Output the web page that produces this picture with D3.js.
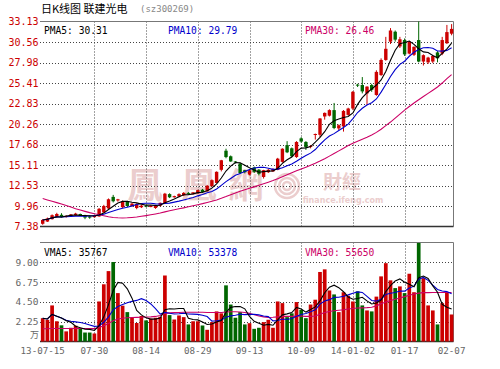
<!DOCTYPE html>
<html><head><meta charset="utf-8">
<script src="https://cdn.jsdelivr.net/npm/d3@7/dist/d3.min.js"></script>
<style>body{margin:0;background:#fff}svg{display:block}</style>
</head><body>
<svg id="c" width="500" height="369"></svg>
<script>
// ---------- data ----------
const titleMain = "日K线图 联建光电";
const titleCode = "(sz300269)";
const tickIdx = [0,11,22,33,44,55,66,77,87];
const tickLabels = ["13-07-15","07-30","08-14","08-29","09-13","10-09","14-01-02","01-17","02-07"];
const priceTicks = [33.13,30.56,27.98,25.41,22.83,20.26,17.68,15.11,12.53,9.96,7.38];
const volTicks = [9.00,6.75,4.50,2.25];
const volUnit = "万";
const priceLegend = ["PMA5: 30.31","PMA10: 29.79","PMA30: 26.46"];
const volLegend = ["VMA5: 35767","VMA10: 53378","VMA30: 55650"];

const open  = [7.72,8.0,8.3,8.6,8.85,8.6,8.7,8.8,8.95,8.8,8.65,8.55,8.65,9.15,9.65,11.1,10.65,9.8,10.5,9.95,
  9.7,9.8,10.0,9.9,9.7,10.0,10.3,11.45,11.05,11.15,11.3,11.6,11.5,11.55,12.0,11.8,12.45,12.85,14.5,16.9,
  16.2,15.55,15.3,14.45,13.9,14.8,14.5,13.6,14.2,14.3,14.5,15.5,17.6,17.2,16.1,18.45,18.0,17.4,18.95,18.9,
  21.2,21.3,22.0,19.7,19.95,21.4,22.2,25.2,25.15,24.1,25.15,23.9,26.4,28.3,30.6,31.85,30.0,30.8,29.1,28.95,
  30.8,28.1,28.0,28.1,29.25,29.1,30.4,31.6];
const high  = [8.3,8.5,8.9,9.1,9.05,8.8,8.95,9.1,9.0,8.85,8.75,8.8,9.7,10.1,10.9,11.35,10.85,10.65,10.6,10.35,
  10.3,10.1,10.1,10.05,10.1,10.4,11.6,11.55,11.25,11.55,11.7,11.7,11.7,12.0,12.1,12.6,13.3,14.3,15.75,17.15,
  16.3,15.6,15.4,14.5,14.55,14.9,14.6,14.5,14.6,14.7,16.0,17.2,18.1,17.3,18.1,18.6,18.1,17.6,19.05,21.0,
  21.7,22.1,22.9,20.2,22.0,22.3,24.4,25.3,26.15,25.0,25.3,27.0,28.5,31.2,32.3,32.0,31.2,31.0,30.7,30.0,
  33.13,29.0,28.7,28.9,29.4,31.2,32.7,32.8];
const low   = [7.6,7.95,8.25,8.5,8.5,8.5,8.65,8.75,8.7,8.3,8.35,8.5,8.6,9.1,9.6,10.4,10.5,9.7,9.85,9.85,
  9.55,9.7,9.8,9.8,9.6,9.9,10.2,10.95,11.0,11.05,11.2,11.35,11.4,11.5,11.6,11.75,12.4,12.8,14.3,15.95,
  15.5,15.3,14.0,14.05,13.8,14.1,13.8,13.4,14.1,14.25,14.45,15.4,16.6,16.1,16.0,17.9,17.0,17.2,18.3,18.6,
  20.8,21.2,19.6,19.5,19.3,21.3,22.0,24.9,24.1,22.65,24.3,23.8,26.3,28.2,30.3,30.6,29.8,28.8,29.0,28.8,
  28.0,27.6,27.8,27.9,28.0,28.9,30.3,31.4];
const close = [8.2,8.4,8.8,8.95,8.55,8.7,8.9,9.0,8.75,8.5,8.5,8.75,9.6,9.95,10.8,10.55,10.8,10.55,9.95,10.25,
  10.2,10.0,9.9,9.95,10.05,10.35,11.5,11.05,11.2,11.45,11.6,11.5,11.65,11.95,11.7,12.5,13.2,14.25,15.7,16.1,
  15.55,15.45,14.1,14.2,14.45,14.25,14.0,14.45,14.5,14.6,15.9,17.15,16.7,16.2,18.0,18.05,17.35,17.5,19.0,20.95,
  21.65,22.0,19.75,20.1,21.9,22.2,24.3,25.1,24.35,24.95,24.55,26.8,28.3,29.7,32.0,30.85,30.9,29.0,30.6,29.95,
  28.1,28.9,28.6,28.8,28.5,30.8,31.8,32.2];
// volume in 万
const volume = [2.65,2.47,4.1,2.3,1.84,1.15,1.56,1.8,1.5,1.02,1.02,0.91,4.55,6.5,8.0,9.03,5.5,4.07,3.34,2.7,
  2.1,2.9,2.4,2.6,2.7,2.8,7.5,3.0,2.5,2.96,2.77,1.94,2.3,2.3,1.82,1.33,2.2,3.42,3.2,6.38,
  4.2,2.7,3.34,1.94,2.08,1.44,1.56,2.2,2.47,1.56,4.55,4.36,2.77,3.2,4.48,3.6,2.65,4.2,4.75,7.9,
  8.2,5.8,5.35,3.34,5.6,5.2,4.55,5.7,4.1,3.53,3.42,5.1,7.4,8.9,6.95,6.07,6.26,5.5,7.7,5.6,
  11.2,7.2,4.1,3.53,1.94,4.36,5.58,3.07];
// 30-day averages
const pma30 = [10.9,10.72,10.55,10.38,10.2,10.02,9.82,9.62,9.45,9.28,9.12,8.98,8.85,8.72,8.6,8.52,8.47,8.45,8.47,8.52,
  8.58,8.66,8.75,8.85,8.96,9.08,9.22,9.35,9.48,9.6,9.72,9.85,9.98,10.12,10.25,10.4,10.55,10.72,10.92,11.14,
  11.38,11.6,11.82,12.0,12.18,12.36,12.55,12.75,12.95,13.15,13.38,13.62,13.87,14.12,14.37,14.6,14.83,15.07,15.32,15.6,
  15.9,16.22,16.55,16.88,17.2,17.55,17.85,18.1,18.35,18.6,18.87,19.2,19.6,20.05,20.5,21.0,21.5,22.0,22.45,22.9,
  23.3,23.7,24.1,24.5,24.9,25.4,25.95,26.46];
const vma30 = [1.45,1.45,1.47,1.48,1.48,1.47,1.47,1.48,1.48,1.47,1.46,1.46,1.6,1.8,2.05,2.35,2.55,2.65,2.7,2.72,
  2.74,2.76,2.78,2.8,2.85,2.95,3.2,3.25,3.28,3.3,3.32,3.32,3.33,3.33,3.32,3.3,3.3,3.3,3.3,3.35,
  3.38,3.38,3.36,3.3,3.2,3.05,2.9,2.8,2.72,2.75,2.8,2.85,2.85,2.85,2.88,2.88,2.86,2.86,2.9,3.1,
  3.3,3.4,3.5,3.55,3.6,3.7,3.75,3.8,3.82,3.85,3.9,4.05,4.3,4.5,4.65,4.8,4.95,5.1,5.25,5.4,
  5.5,5.55,5.55,5.56,5.56,5.56,5.57,5.565];

// ---------- drawing ----------
const RED="#cc0000", GREEN="#006600", BLUE="#0000cc", MAG="#cc0066";
const svg = d3.select("#c");
const L = 40, R = 453.5;
const n = close.length;
const x = d3.scaleLinear().domain([0, n-1]).range([42.7, 451.6]);
const y = d3.scaleLinear().domain([7.38, 33.13]).range([226.5, 21.5]);
const yv = d3.scaleLinear().domain([0, 11.25]).range([341.5, 242.5]);
const mono = "'DejaVu Sans Mono', monospace";
const cjk = "'Noto Sans CJK SC','Noto Sans CJK TC',sans-serif";

function ma(arr, k){ return arr.map((_,i)=>d3.mean(arr.slice(Math.max(0,i-k+1), i+1))); }

// watermark
const WM = "#ebcdcd";
const wm = svg.append("g").attr("fill",WM).attr("font-family","'Noto Sans CJK TC',sans-serif");
[["鳳",145],["凰",199],["網",246]].forEach(([t,cx])=>{
  wm.append("text").attr("x",cx).attr("y",198).attr("text-anchor","middle")
    .attr("font-size",35).attr("font-weight","bold").text(t);
});
const sw = svg.append("g").attr("fill","none").attr("stroke",WM);
[12,8,4].forEach(r=>sw.append("circle").attr("cx",287).attr("cy",186).attr("r",r).attr("stroke-width",2.5));
wm.append("text").attr("x",342).attr("y",189).attr("text-anchor","middle").attr("font-size",19).attr("font-weight","bold").text("財經");
wm.append("text").attr("x",343).attr("y",203).attr("text-anchor","middle").attr("font-size",8).attr("font-weight","bold")
  .attr("font-family","'DejaVu Sans',sans-serif").text("finance.ifeng.com");

// grids
const grid = svg.append("g").attr("stroke","#444").attr("stroke-dasharray","1,2").attr("stroke-width",1);
priceTicks.slice(1,-1).forEach(v=>{
  const yy = Math.round(y(v))+0.5;
  grid.append("line").attr("x1",L).attr("x2",R).attr("y1",yy).attr("y2",yy);
});
volTicks.forEach(v=>{
  const yy = Math.round(yv(v))+0.5;
  grid.append("line").attr("x1",L).attr("x2",R).attr("y1",yy).attr("y2",yy);
});
tickIdx.slice(1,-1).forEach(i=>{
  const xx = Math.round(x(i))+0.5;
  grid.append("line").attr("x1",xx).attr("x2",xx).attr("y1",y.range()[1]).attr("y2",y.range()[0]);
  grid.append("line").attr("x1",xx).attr("x2",xx).attr("y1",yv.range()[1]).attr("y2",yv.range()[0]);
});

// frames
const fr = svg.append("g").attr("fill","none");
fr.append("path").attr("d",`M${L},21.5H${R}V226.5`).attr("stroke","#777");
fr.append("line").attr("x1",L).attr("x2",R).attr("y1",226.5).attr("y2",226.5).attr("stroke","#333").attr("stroke-width",1.5);
fr.append("path").attr("d",`M${L},242.5H${R}V341.5`).attr("stroke","#777");
fr.append("line").attr("x1",L).attr("x2",R).attr("y1",341.5).attr("y2",341.5).attr("stroke","#333").attr("stroke-width",1.5);

// candles
const cg = svg.append("g");
const bw = 3.4;
close.forEach((c,i)=>{
  const o = open[i], up = c >= o, col = up ? RED : GREEN;
  const xc = x(i);
  cg.append("line").attr("x1",xc).attr("x2",xc).attr("y1",y(high[i])).attr("y2",y(low[i]))
    .attr("stroke",col).attr("stroke-width",1);
  const top = y(Math.max(o,c)), bot = y(Math.min(o,c));
  cg.append("rect").attr("x",xc-bw/2).attr("width",bw).attr("y",top).attr("height",Math.max(1,bot-top)).attr("fill",col);
});

// volume bars
const vg = svg.append("g");
volume.forEach((v,i)=>{
  const up = close[i] >= open[i];
  vg.append("rect").attr("x",x(i)-1.85).attr("width",3.7).attr("y",yv(v)).attr("height",yv(0)-yv(v))
    .attr("fill", up ? RED : GREEN);
});

// MA lines
const lp = d3.line().x((d,i)=>x(i)).y(d=>y(d));
const lv = d3.line().x((d,i)=>x(i)).y(d=>yv(d));
const ml = svg.append("g").attr("fill","none").attr("stroke-width",1.1);
ml.append("path").attr("d",lp(pma30)).attr("stroke",MAG);
ml.append("path").attr("d",lp(ma(close,10))).attr("stroke",BLUE);
ml.append("path").attr("d",lp(ma(close,5))).attr("stroke","#000");
ml.append("path").attr("d",lv(vma30)).attr("stroke",MAG);
ml.append("path").attr("d",lv(ma(volume,10))).attr("stroke",BLUE);
ml.append("path").attr("d",lv(ma(volume,5))).attr("stroke","#000");

// axis labels
const tx = svg.append("g").attr("font-family",mono);
priceTicks.forEach(v=>{
  tx.append("text").attr("x",38.5).attr("y",y(v)+3.6).attr("text-anchor","end").attr("font-size",10)
    .attr("fill",RED).text(v.toFixed(2));
});
volTicks.forEach(v=>{
  tx.append("text").attr("x",38.5).attr("y",yv(v)+3.4).attr("text-anchor","end").attr("font-size",9.5)
    .attr("fill","#666").text(v.toFixed(2));
});
svg.append("text").attr("x",39).attr("y",338).attr("text-anchor","end").attr("font-size",9)
  .attr("font-family",cjk).attr("fill","#666").text(volUnit);
tickIdx.forEach((idx,k)=>{
  tx.append("text").attr("x",x(idx)).attr("y",353.5).attr("text-anchor","middle").attr("font-size",9.2)
    .attr("fill","#666").text(tickLabels[k]);
});

// legends
const lcols = ["#000",BLUE,MAG], lx = [44,168,305];
priceLegend.forEach((t,k)=>tx.append("text").attr("x",lx[k]).attr("y",34).attr("font-size",9.6).attr("fill",lcols[k]).text(t));
volLegend.forEach((t,k)=>tx.append("text").attr("x",lx[k]).attr("y",256).attr("font-size",9.6).attr("fill",lcols[k]).text(t));

// title
svg.append("text").attr("x",41).attr("y",12.5).attr("font-family",cjk).attr("font-size",11).attr("fill","#000").text(titleMain);
svg.append("text").attr("x",140).attr("y",11.5).attr("font-family",mono).attr("font-size",9).attr("fill","#888").text(titleCode);
</script>
</body></html>
